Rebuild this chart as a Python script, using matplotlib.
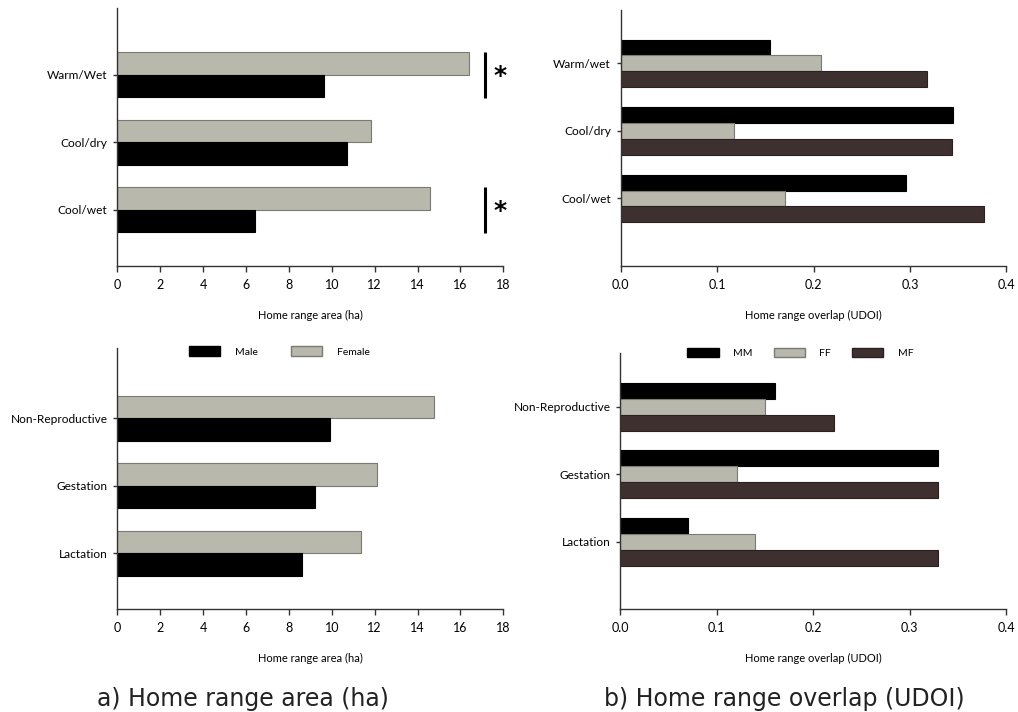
import matplotlib.pyplot as plt
from matplotlib.patches import Patch

plt.rcParams['font.family'] = ['Lato', 'DejaVu Sans']

# seasons (bottom to top as drawn)
seasons_area = ["Cool/wet", "Cool/dry", "Warm/Wet"]
seasons_udoi = ["Cool/wet", "Cool/dry", "Warm/wet"]
female_season = [14.58, 11.85, 16.40]
male_season = [6.43, 10.70, 9.64]
mm_season = [0.296, 0.345, 0.155]
ff_season = [0.170, 0.117, 0.208]
mf_season = [0.377, 0.344, 0.318]
signif_season = [True, False, True]

# reproductive stages (bottom to top as drawn)
stages = ["Lactation", "Gestation", "Non-Reproductive"]
female_stage = [11.37, 12.11, 14.76]
male_stage = [8.63, 9.24, 9.92]
mm_stage = [0.070, 0.330, 0.160]
ff_stage = [0.140, 0.121, 0.150]
mf_stage = [0.330, 0.330, 0.222]

BLACK = "#000000"
GREY = "#b8b8ac"
BROWN = "#3f3030"
AXC = "#333333"

fig = plt.figure(figsize=(10.18, 7.12), dpi=100)


def style(ax, xmax, xticks, fmt, xlabel, labels, ylim):
    for s in ("top", "right"):
        ax.spines[s].set_visible(False)
    for s in ("left", "bottom"):
        ax.spines[s].set_color(AXC)
        ax.spines[s].set_linewidth(1.0)
    ax.set_xlim(0, xmax)
    ax.set_ylim(*ylim)
    ax.set_xticks(xticks)
    ax.set_xticklabels([fmt.format(t) for t in xticks])
    ax.set_yticks(range(len(labels)))
    ax.set_yticklabels(labels)
    ax.tick_params(axis="x", length=4, width=1, color=AXC, labelsize=9, pad=5)
    ax.tick_params(axis="y", length=3, width=1, color=AXC, labelsize=8.6, pad=4)
    ax.set_xlabel(xlabel, fontsize=8, labelpad=14)


def area_panel(rect, labels, female, male, ylim):
    ax = fig.add_axes(rect)
    y = range(len(labels))
    h = 0.333
    ax.barh([i + h / 2 for i in y], female, height=h, color=GREY,
            edgecolor="#7a7a72", linewidth=0.8)
    ax.barh([i - h / 2 for i in y], male, height=h, color=BLACK,
            edgecolor=BLACK, linewidth=0.8)
    style(ax, 18, range(0, 19, 2), "{}", "Home range area (ha)", labels, ylim)
    return ax


def udoi_panel(rect, labels, mm, ff, mf, ylim):
    ax = fig.add_axes(rect)
    y = range(len(labels))
    h = 0.235
    ax.barh([i + h for i in y], mm, height=h, color=BLACK,
            edgecolor=BLACK, linewidth=0.8)
    ax.barh(list(y), ff, height=h, color=GREY,
            edgecolor="#7a7a72", linewidth=0.8)
    ax.barh([i - h for i in y], mf, height=h, color=BROWN,
            edgecolor="#2a2020", linewidth=0.8)
    style(ax, 0.4, [0.0, 0.1, 0.2, 0.3, 0.4], "{:.1f}",
          "Home range overlap (UDOI)", labels, ylim)
    return ax


ax1 = area_panel([0.1152, 0.6264, 0.3792, 0.3624], seasons_area,
                 female_season, male_season, (-0.83, 2.99))
for i, sig in enumerate(signif_season):
    if sig:
        ax1.plot([17.15, 17.15], [i - 0.34, i + 0.34], color=BLACK, lw=2.2,
                 solid_capstyle="butt")
        ax1.text(17.85, i - 0.02, "*", fontsize=18, fontweight="bold",
                 ha="center", va="center", family="DejaVu Sans")

ax2 = udoi_panel([0.6097, 0.6264, 0.3790, 0.3596], seasons_udoi,
                 mm_season, ff_season, mf_season, (-1.0, 2.79))

ax3 = area_panel([0.1152, 0.1442, 0.3792, 0.3666], stages,
                 female_stage, male_stage, (-0.83, 3.035))
ax3.legend(handles=[Patch(facecolor=BLACK, edgecolor=BLACK, label="Male"),
                    Patch(facecolor=GREY, edgecolor="#7a7a72", label="Female")],
           loc="center", bbox_to_anchor=(0.42, 0.988), ncol=2, frameon=False,
           fontsize=7.5, handlelength=3.0, handleheight=1.0,
           handletextpad=1.4, columnspacing=3.2)

ax4 = udoi_panel([0.6093, 0.1442, 0.3789, 0.3604], stages,
                 mm_stage, ff_stage, mf_stage, (-1.0, 2.8))
ax4.legend(handles=[Patch(facecolor=BLACK, edgecolor=BLACK, label="MM"),
                    Patch(facecolor=GREY, edgecolor="#7a7a72", label="FF"),
                    Patch(facecolor=BROWN, edgecolor="#2a2020", label="MF")],
           loc="center", bbox_to_anchor=(0.467, 1.0), ncol=3, frameon=False,
           fontsize=7.5, handlelength=3.0, handleheight=1.0,
           handletextpad=1.4, columnspacing=2.0)

fig.text(0.2387, 0.009, "a) Home range area (ha)", fontsize=17,
         ha="center", va="baseline", color="#222222", family="DejaVu Sans")
fig.text(0.770, 0.009, "b) Home range overlap (UDOI)", fontsize=17,
         ha="center", va="baseline", color="#222222", family="DejaVu Sans")

fig.savefig("out.png", dpi=100)
